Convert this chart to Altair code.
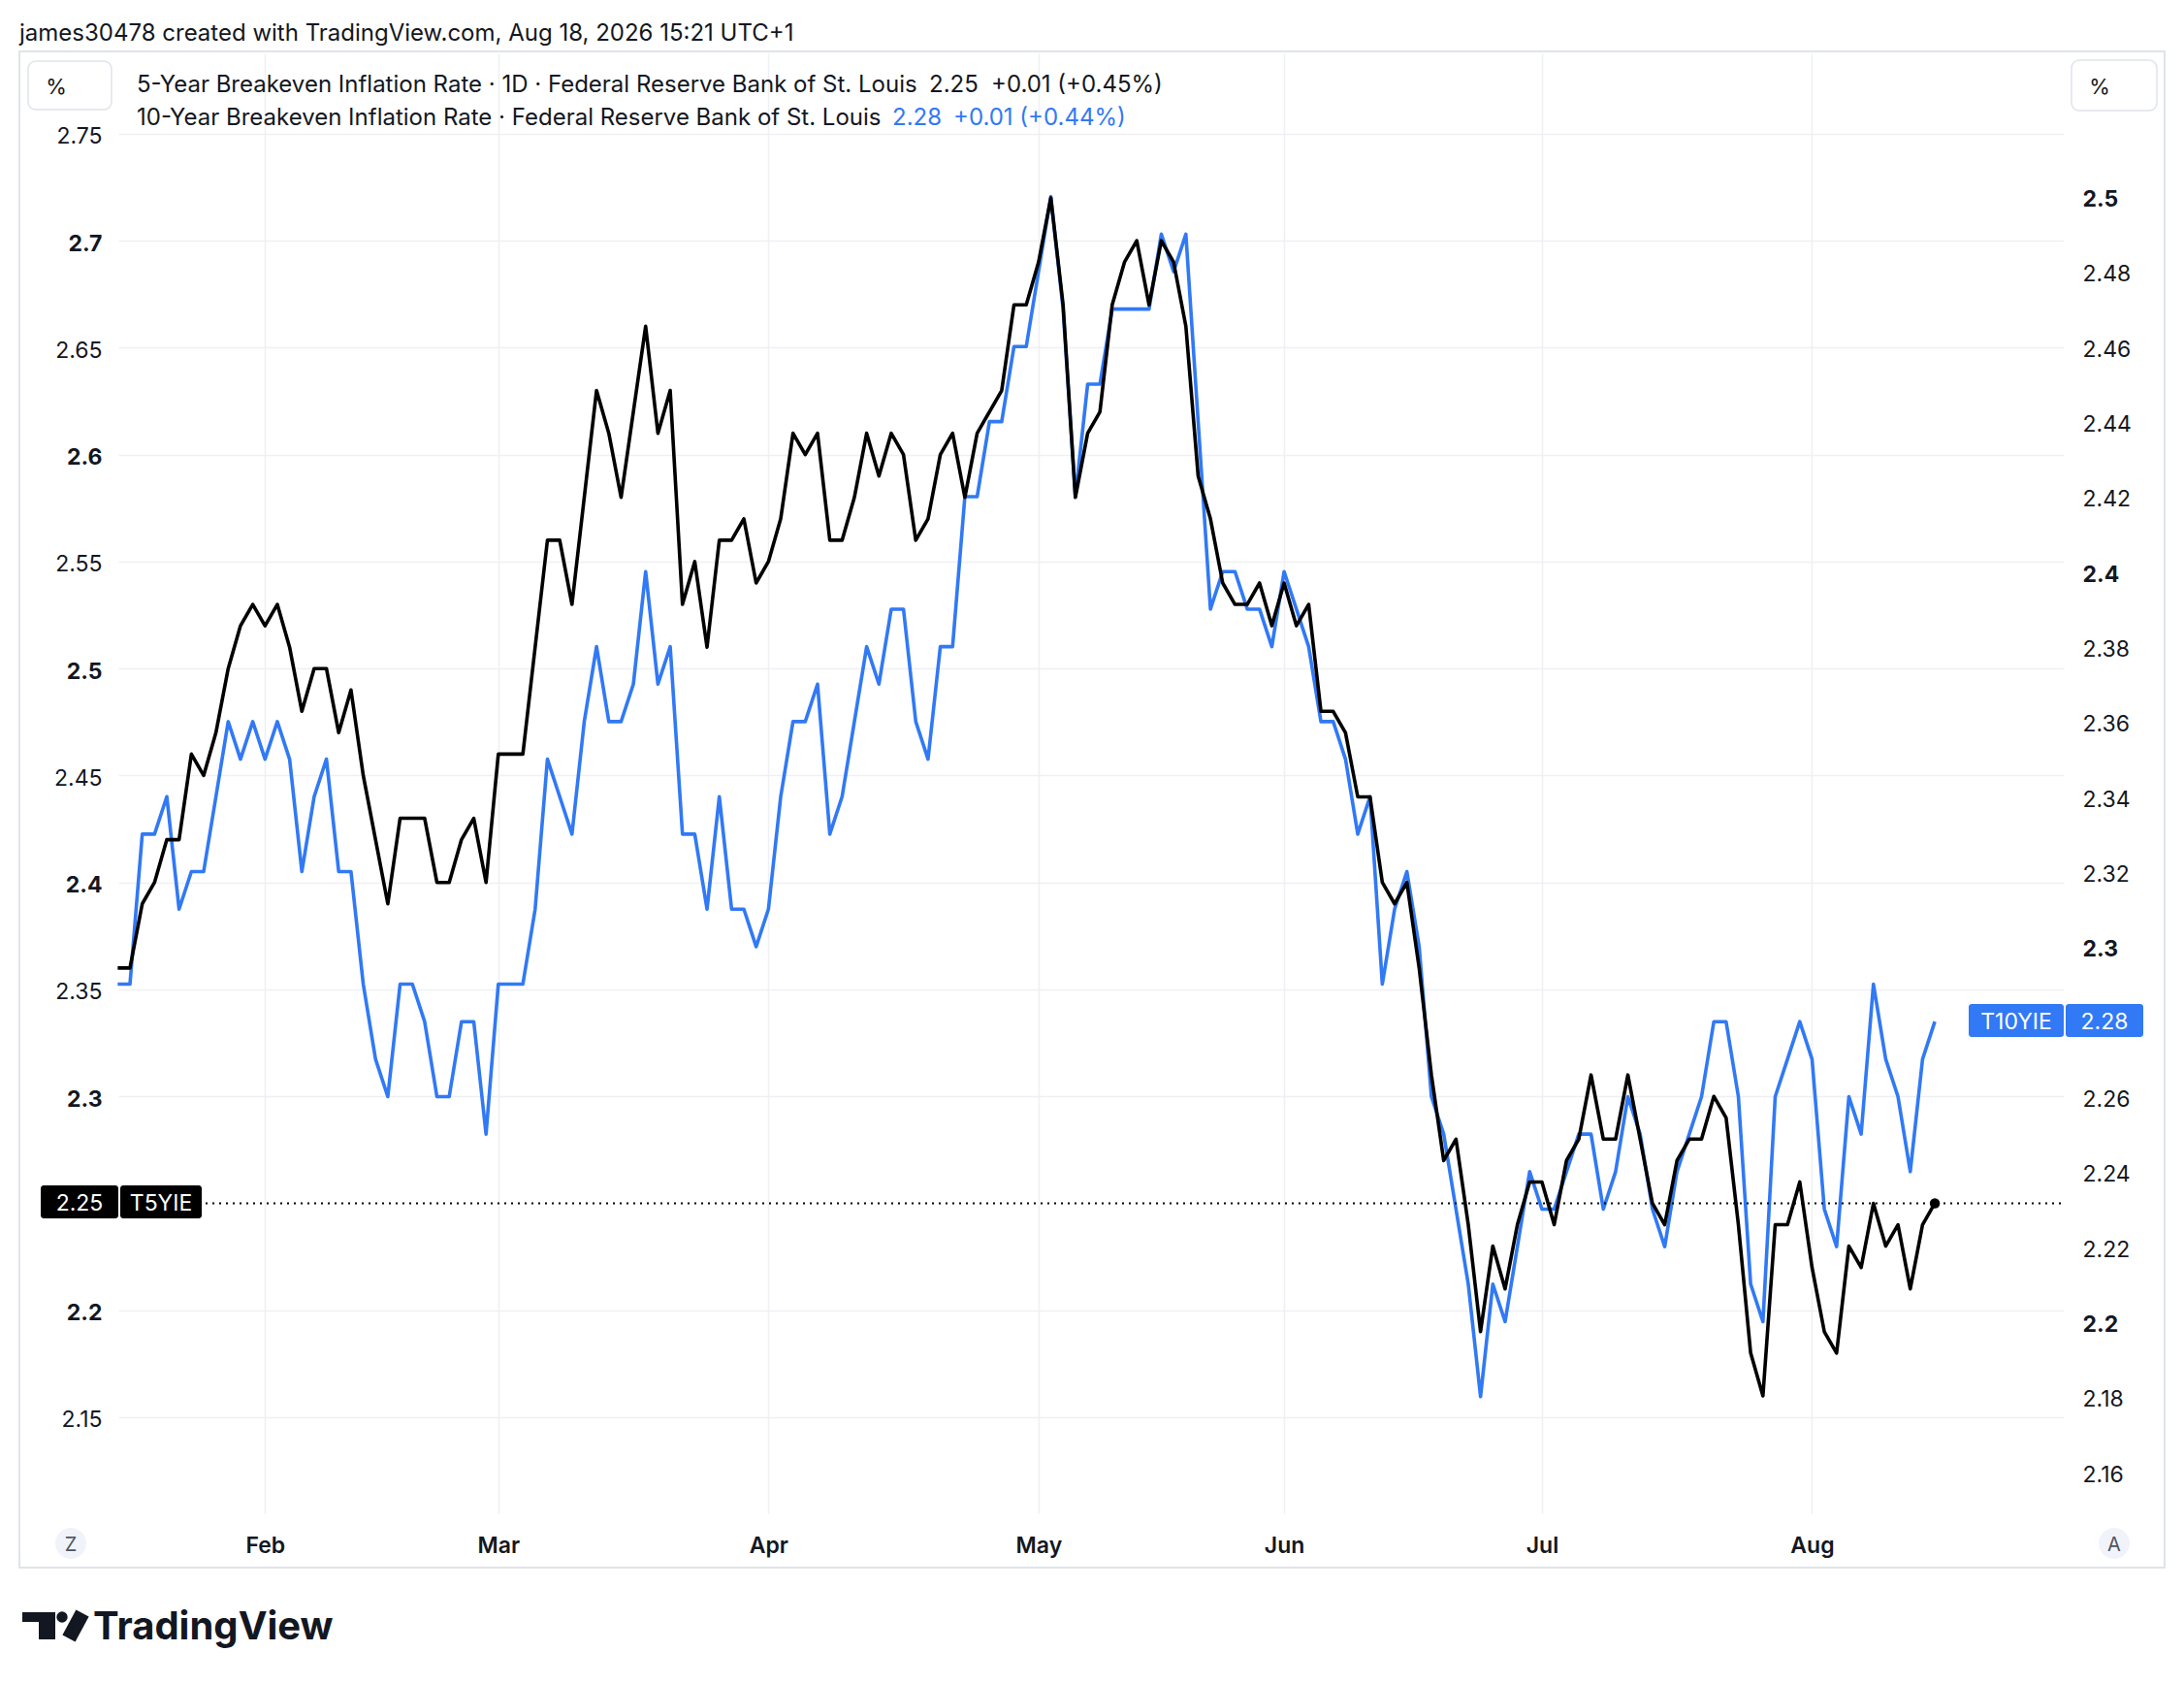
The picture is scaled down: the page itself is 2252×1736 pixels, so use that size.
import altair as alt
import pandas as pd

# ---- data ----
t5yie = [
    2.36, 2.36, 2.39, 2.40, 2.42, 2.42, 2.46, 2.45, 2.47, 2.50,
    2.52, 2.53, 2.52, 2.53, 2.51, 2.48, 2.50, 2.50, 2.47, 2.49,
    2.45, 2.42, 2.39, 2.43, 2.43, 2.43, 2.40, 2.40, 2.42, 2.43,
    2.40, 2.46, 2.46, 2.46, 2.51, 2.56, 2.56, 2.53, 2.58, 2.63,
    2.61, 2.58, 2.62, 2.66, 2.61, 2.63, 2.53, 2.55, 2.51, 2.56,
    2.56, 2.57, 2.54, 2.55, 2.57, 2.61, 2.60, 2.61, 2.56, 2.56,
    2.58, 2.61, 2.59, 2.61, 2.60, 2.56, 2.57, 2.60, 2.61, 2.58,
    2.61, 2.62, 2.63, 2.67, 2.67, 2.69, 2.72, 2.67, 2.58, 2.61,
    2.62, 2.67, 2.69, 2.70, 2.67, 2.70, 2.69, 2.66, 2.59, 2.57,
    2.54, 2.53, 2.53, 2.54, 2.52, 2.54, 2.52, 2.53, 2.48, 2.48,
    2.47, 2.44, 2.44, 2.40, 2.39, 2.40, 2.36, 2.31, 2.27, 2.28,
    2.24, 2.19, 2.23, 2.21, 2.24, 2.26, 2.26, 2.24, 2.27, 2.28,
    2.31, 2.28, 2.28, 2.31, 2.28, 2.25, 2.24, 2.27, 2.28, 2.28,
    2.30, 2.29, 2.24, 2.18, 2.16, 2.24, 2.24, 2.26, 2.22, 2.19,
    2.18, 2.23, 2.22, 2.25, 2.23, 2.24, 2.21, 2.24, 2.25,
]
t10yie = [
    2.29, 2.29, 2.33, 2.33, 2.34, 2.31, 2.32, 2.32, 2.34, 2.36,
    2.35, 2.36, 2.35, 2.36, 2.35, 2.32, 2.34, 2.35, 2.32, 2.32,
    2.29, 2.27, 2.26, 2.29, 2.29, 2.28, 2.26, 2.26, 2.28, 2.28,
    2.25, 2.29, 2.29, 2.29, 2.31, 2.35, 2.34, 2.33, 2.36, 2.38,
    2.36, 2.36, 2.37, 2.40, 2.37, 2.38, 2.33, 2.33, 2.31, 2.34,
    2.31, 2.31, 2.30, 2.31, 2.34, 2.36, 2.36, 2.37, 2.33, 2.34,
    2.36, 2.38, 2.37, 2.39, 2.39, 2.36, 2.35, 2.38, 2.38, 2.42,
    2.42, 2.44, 2.44, 2.46, 2.46, 2.48, 2.50, 2.47, 2.42, 2.45,
    2.45, 2.47, 2.47, 2.47, 2.47, 2.49, 2.48, 2.49, 2.44, 2.39,
    2.40, 2.40, 2.39, 2.39, 2.38, 2.40, 2.39, 2.38, 2.36, 2.36,
    2.35, 2.33, 2.34, 2.29, 2.31, 2.32, 2.30, 2.26, 2.25, 2.23,
    2.21, 2.18, 2.21, 2.20, 2.22, 2.24, 2.23, 2.23, 2.24, 2.25,
    2.25, 2.23, 2.24, 2.26, 2.25, 2.23, 2.22, 2.24, 2.25, 2.26,
    2.28, 2.28, 2.26, 2.21, 2.20, 2.26, 2.27, 2.28, 2.27, 2.23,
    2.22, 2.26, 2.25, 2.29, 2.27, 2.26, 2.24, 2.27, 2.28,
]
month_ticks = [12, 31, 53, 75, 95, 116, 138]      # bar index of first session of month
month_labels = ["Feb", "Mar", "Apr", "May", "Jun", "Jul", "Aug"]
left_ticks = [2.15, 2.2, 2.3, 2.35, 2.4, 2.45, 2.5, 2.55, 2.6, 2.65, 2.7, 2.75]
right_ticks = [2.16, 2.18, 2.2, 2.22, 2.24, 2.26, 2.3, 2.32, 2.34, 2.36,
               2.38, 2.4, 2.42, 2.44, 2.46, 2.48, 2.5]

df = pd.DataFrame({"bar": list(range(len(t5yie))), "t5": t5yie, "t10": t10yie})
last = df.tail(1)
one = pd.DataFrame({"k": [0]})

# ---- style ----
W, H = 2006, 1505
FONT = "Inter"
INK = "#131722"
BLUE = "#3179F5"
GRID = "#eef0f3"
BORDER = "#e0e3eb"

xscale = alt.Scale(domain=[0.05, 158.5], nice=False, zero=False)
yL = alt.Scale(domain=[2.1051, 2.7876], nice=False, zero=False)
yR = alt.Scale(domain=[2.1489, 2.5382], nice=False, zero=False)

bold_test = "abs(datum.value*10 - round(datum.value*10)) < 0.001"

xaxis = alt.Axis(
    values=month_ticks,
    labelExpr=f"{month_labels}[indexof({month_ticks}, datum.value)]",
    grid=True, gridColor=GRID, gridWidth=1.5, domain=False, ticks=False,
    labelFont=FONT, labelFontSize=23, labelFontWeight=600, labelColor=INK,
    labelBaseline="middle", labelPadding=33, labelFlush=False, title=None,
)
left_axis = alt.Axis(
    orient="left", values=left_ticks, labelExpr="format(datum.value, '.2~f')",
    grid=True, gridColor=GRID, gridWidth=1.5, domain=False, ticks=False,
    labelFont=FONT, labelFontSize=23, labelColor=INK, labelPadding=17,
    labelOffset=3,
    labelFontWeight={"condition": {"test": bold_test, "value": 700}, "value": 400},
    title=None,
)
right_axis = alt.Axis(
    orient="right", values=right_ticks, labelExpr="format(datum.value, '.2~f')",
    grid=False, domain=False, ticks=False,
    labelFont=FONT, labelFontSize=23, labelColor=INK, labelPadding=19,
    labelOffset=3,
    labelFontWeight={"condition": {"test": bold_test, "value": 700}, "value": 400},
    title=None,
)

blue = alt.Chart(df).mark_line(color=BLUE, strokeWidth=3.6, strokeJoin="round").encode(
    x=alt.X("bar:Q", scale=xscale, axis=xaxis),
    y=alt.Y("t10:Q", scale=yR, axis=right_axis),
)
black = alt.Chart(df).mark_line(color="#000000", strokeWidth=3.6, strokeJoin="round").encode(
    x=alt.X("bar:Q", scale=xscale, axis=xaxis),
    y=alt.Y("t5:Q", scale=yL, axis=left_axis),
)
price_line = alt.Chart(last).mark_rule(color="#000000", strokeWidth=2, strokeDash=[2, 5]).encode(
    x=alt.value(90), x2=alt.value(W),
    y=alt.Y("t5:Q", scale=yL, axis=None),
)
last_dot = alt.Chart(last).mark_circle(color="#000000", size=110, opacity=1).encode(
    x=alt.X("bar:Q", scale=xscale, axis=xaxis),
    y=alt.Y("t5:Q", scale=yL, axis=None),
)


def text(x, y, s, size=24, color=INK, weight=400, align="left", baseline="middle"):
    return alt.Chart(one).mark_text(
        align=align, baseline=baseline, font=FONT, fontSize=size,
        fontWeight=weight, color=color,
    ).encode(x=alt.value(x), y=alt.value(y), text=alt.value(s))


def rect(x1, x2, y1, y2, **kw):
    return alt.Chart(one).mark_rect(**kw).encode(
        x=alt.value(x1), x2=alt.value(x2), y=alt.value(y1), y2=alt.value(y2))


def dot(x, y, size, color):
    return alt.Chart(one).mark_circle(size=size, color=color, opacity=1).encode(
        x=alt.value(x), y=alt.value(y))


annotations = [
    # panel border
    rect(-102, 2110, -2, 1561, fillOpacity=0, stroke=BORDER, strokeWidth=2),
    # header
    text(-102, -20, "james30478 created with TradingView.com, Aug 18, 2026 15:21 UTC+1", size=24),
    # % boxes
    rect(-93, -7, 8, 58, fill="white", stroke=BORDER, strokeWidth=1.5, cornerRadius=8),
    text(-64, 35, "%", size=22, align="center"),
    rect(2014, 2102, 7, 59, fill="white", stroke=BORDER, strokeWidth=1.5, cornerRadius=8),
    text(2043, 35, "%", size=22, align="center"),
    # legend
    text(19, 33, "5-Year Breakeven Inflation Rate · 1D · Federal Reserve Bank of St. Louis"),
    text(836, 33, "2.25"),
    text(900, 33, "+0.01 (+0.45%)"),
    text(19, 67, "10-Year Breakeven Inflation Rate · Federal Reserve Bank of St. Louis"),
    text(798, 67, "2.28", color=BLUE),
    text(861, 67, "+0.01 (+0.44%)", color=BLUE),
    # left badge
    rect(-80, 0, 1167, 1201, fill="#000000", cornerRadius=3),
    rect(2, 86, 1167, 1201, fill="#000000", cornerRadius=3),
    text(-40, 1186, "2.25", size=23, color="white", align="center"),
    text(44, 1186, "T5YIE", size=23, color="white", align="center"),
    # right badge
    rect(1908, 2006, 980, 1014, fill=BLUE, cornerRadius=3),
    rect(2008, 2088, 980, 1014, fill=BLUE, cornerRadius=3),
    text(1957, 999, "T10YIE", size=23, color="white", align="center"),
    text(2048, 999, "2.28", size=23, color="white", align="center"),
    # Z / A buttons
    dot(-49, 1536, 1020, "#f0f3fa"),
    text(-49, 1538, "Z", size=20, color="#50535e", align="center"),
    dot(2058, 1536, 1020, "#f0f3fa"),
    text(2058, 1538, "A", size=20, color="#50535e", align="center"),
    # TradingView logo
    rect(-99, -65, 1607, 1617, fill=INK),
    rect(-82, -65, 1607, 1635, fill=INK),
    dot(-58, 1612, 130, INK),
    alt.Chart(one).mark_rule(color=INK, strokeWidth=15).encode(
        x=alt.value(-37), y=alt.value(1608), x2=alt.value(-51), y2=alt.value(1634)),
    text(-26, 1635, "TradingView", size=40, weight=700, baseline="alphabetic"),
]

chart = alt.layer(blue, black, price_line, last_dot, *annotations).resolve_scale(
    y="independent"
).properties(
    width=W, height=H,
    autosize=alt.AutoSizeParams(type="none"),
    padding={"left": 114, "top": 47, "right": 110, "bottom": 160},
    background="white",
).configure_view(stroke=None)

chart.save("out.html", embed_options={"renderer": "svg", "actions": False})
